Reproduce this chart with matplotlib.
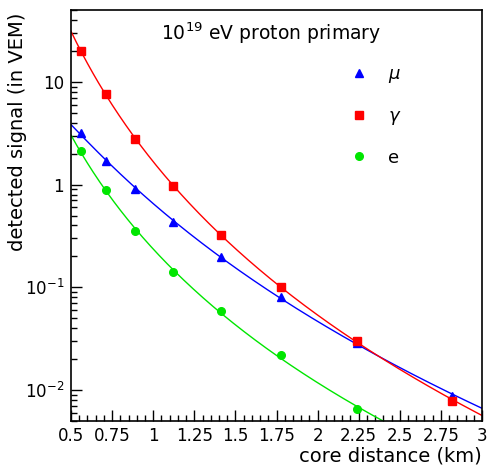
import numpy as np
import matplotlib
matplotlib.use('Agg')
from matplotlib import pyplot as plt
from matplotlib.ticker import FixedLocator, MultipleLocator, FuncFormatter, LogLocator, NullFormatter

plt.rcParams['font.family'] = ['DejaVu Sans']
plt.rcParams['mathtext.default'] = 'regular'

# core distances (km) and detected signals (VEM)
r_km = [0.56, 0.71, 0.89, 1.12, 1.41, 1.78, 2.24, 2.82]
s_muon = [3.15, 1.71, 0.91, 0.435, 0.198, 0.081, 0.029, 0.0087]
s_gamma = [20.0, 7.6, 2.8, 0.97, 0.325, 0.100, 0.030, 0.0079]
s_elec = [2.1, 0.89, 0.355, 0.142, 0.059, 0.022, 0.0065]

fsize = 12
c_mu, c_ga, c_e = '#0000ff', '#ff0000', '#00e600'

fig = plt.figure(figsize=(4.88, 4.65), dpi=100)
ax = fig.add_axes([0.1455, 0.0946, 0.8422, 0.8839])

rr = np.linspace(0.5, 3.0, 300)
series = [(s_muon, c_mu, '^', r'$\mathit{\mu}$', 5.5),
          (s_gamma, c_ga, 's', r'$\mathit{\gamma}$', 5.5),
          (s_elec, c_e, 'o', 'e', 5.5)]
handles = []
for s, c, m, lab, ms in series:
    x = np.array(r_km[:len(s)])
    # smooth fit in log-log space
    p = np.polyfit(np.log10(x), np.log10(s), 2)
    ax.plot(rr, 10 ** np.polyval(p, np.log10(rr)), color=c, lw=1.0)
    h, = ax.plot(x, s, linestyle='none', marker=m, color=c, markersize=ms, label=lab)
    handles.append(h)

ax.set_yscale('log')
ax.set_xlim(0.5, 3.0)
ax.set_ylim(5e-3, 50)

ax.xaxis.set_major_locator(MultipleLocator(0.25))
ax.xaxis.set_minor_locator(MultipleLocator(0.05))
ax.xaxis.set_major_formatter(FuncFormatter(lambda v, p: ('%g' % v)))
ax.yaxis.set_major_locator(FixedLocator([1e-2, 1e-1, 1, 10]))
ax.yaxis.set_minor_locator(LogLocator(base=10, subs=np.arange(2, 10)))
ax.yaxis.set_minor_formatter(NullFormatter())
ylabels = {1e-2: r'$10^{-2}$', 1e-1: r'$10^{-1}$', 1: '1', 10: '10'}
ax.yaxis.set_major_formatter(FuncFormatter(lambda v, p: ylabels.get(v, '')))

ax.tick_params(which='both', direction='in', top=False, right=False, labelsize=fsize, pad=5)
ax.tick_params(axis='x', pad=4)
ax.tick_params(which='major', length=8, width=1)
ax.tick_params(which='minor', length=4, width=1)
for sp in ax.spines.values():
    sp.set_linewidth(1.2)

ax.set_xlabel('core distance (km)', fontsize=14, ha='right', va='top')
ax.xaxis.set_label_coords(1.0, -0.062)
ax.set_ylabel('detected signal (in VEM)', fontsize=14, ha='right', va='bottom')
ax.yaxis.set_label_coords(-0.108, 0.993)

ax.text(0.488, 0.975, r'$10^{19}$ eV proton primary', transform=ax.transAxes,
        ha='center', va='top', fontsize=13.5)

ax.legend(handles=handles, loc='upper left', bbox_to_anchor=(0.64, 0.905), frameon=False,
          fontsize=13, labelspacing=1.2, handlelength=1.0, handletextpad=1.1, numpoints=1)

fig.savefig('out.png', dpi=100)
